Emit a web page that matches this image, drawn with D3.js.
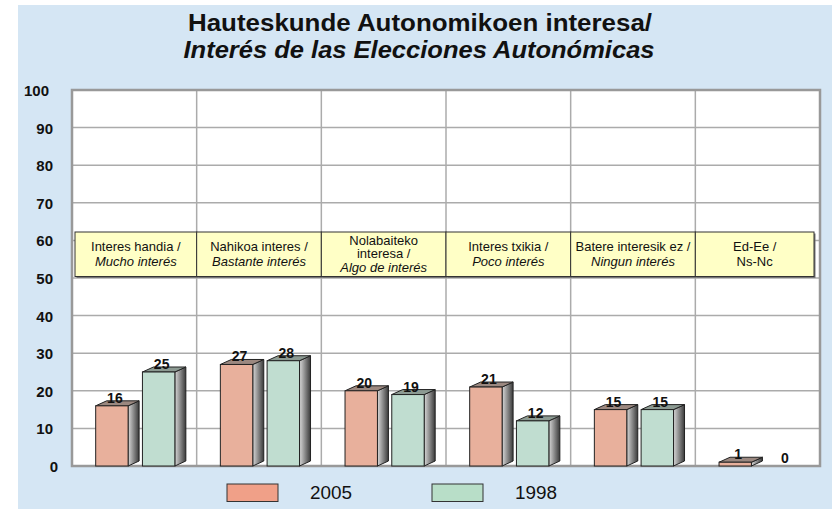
<!DOCTYPE html>
<html>
<head>
<meta charset="utf-8">
<script src="https://cdn.jsdelivr.net/npm/d3@7/dist/d3.min.js"></script>
<style>
  html, body { margin: 0; padding: 0; background: #fff; }
  svg { display: block; font-family: Arial, "Liberation Sans", sans-serif; }
</style>
</head>
<body>
<div id="chart"></div>
<script>
// ── Data ──────────────────────────────────────────────────────────────────
var titleEu = "Hauteskunde Autonomikoen interesa/";
var titleEs = "Interés de las Elecciones Autonómicas";
var categoriesEu = ["Interes handia /", "Nahikoa interes /", "Nolabaiteko\ninteresa /",
                    "Interes txikia /", "Batere interesik ez /", "Ed-Ee /"];
var categoriesEs = ["Mucho interés", "Bastante interés", "Algo de interés",
                    "Poco interés", "Ningun interés", "Ns-Nc"];
var seriesNames = ["2005", "1998"];
var values2005 = [16, 27, 20, 21, 15, 1];
var values1998 = [25, 28, 19, 12, 15, 0];
var yTicks = [0, 10, 20, 30, 40, 50, 60, 70, 80, 90, 100];

(function () {
  "use strict";

  var W = 832, H = 509;
  var plot = { left: 72, right: 820, top: 90, bottom: 466 };

  var svg = d3.select("#chart").append("svg").attr("width", W).attr("height", H);

  // gradient for the 3D side faces
  var defs = svg.append("defs");
  var gSide = defs.append("linearGradient").attr("id", "side").attr("x1", 0).attr("x2", 1).attr("y1", 0).attr("y2", 0);
  gSide.append("stop").attr("offset", "0%").attr("stop-color", "#d8d8d8");
  gSide.append("stop").attr("offset", "100%").attr("stop-color", "#3a3a3a");

  // background panel
  svg.append("rect").attr("x", 18).attr("y", 5).attr("width", W - 18).attr("height", H - 5)
    .attr("fill", "#d5e6f4");

  // title (the original is a bit wider than the installed Arial substitute)
  svg.append("text").attr("x", 420).attr("y", 31).attr("text-anchor", "middle")
    .attr("textLength", 464).attr("lengthAdjust", "spacingAndGlyphs")
    .style("font-size", "23px").style("font-weight", "bold").attr("fill", "#111").text(titleEu);
  svg.append("text").attr("x", 419).attr("y", 58).attr("text-anchor", "middle")
    .attr("textLength", 471).attr("lengthAdjust", "spacingAndGlyphs")
    .style("font-size", "23px").style("font-weight", "bold").style("font-style", "italic")
    .attr("fill", "#111").text(titleEs);

  var x = d3.scaleBand().domain(d3.range(categoriesEu.length)).range([plot.left, plot.right]);
  var y = d3.scaleLinear().domain([0, 100]).range([plot.bottom, plot.top]);

  // plot area
  svg.append("rect").attr("x", plot.left).attr("y", plot.top)
    .attr("width", plot.right - plot.left).attr("height", plot.bottom - plot.top).attr("fill", "#fff");

  var grid = svg.append("g");
  grid.selectAll(".hg").data(yTicks.slice(1, -1)).enter().append("line")
    .attr("x1", plot.left).attr("x2", plot.right)
    .attr("y1", function (d) { return y(d); }).attr("y2", function (d) { return y(d); })
    .attr("stroke", "#ababab").attr("stroke-width", 1.5);
  grid.selectAll(".vg").data(d3.range(1, categoriesEu.length)).enter().append("line")
    .attr("x1", function (i) { return x(i); }).attr("x2", function (i) { return x(i); })
    .attr("y1", plot.top).attr("y2", plot.bottom)
    .attr("stroke", "#ababab").attr("stroke-width", 1.5);

  svg.append("rect").attr("x", plot.left).attr("y", plot.top)
    .attr("width", plot.right - plot.left).attr("height", plot.bottom - plot.top)
    .attr("fill", "none").attr("stroke", "#999").attr("stroke-width", 2.5);

  // y tick labels
  svg.append("g").selectAll("text").data(yTicks).enter().append("text")
    .attr("x", function (d) { return 53 + (d === 0 ? 5 : d === 100 ? -4 : 0); })
    .attr("y", function (d) { return y(d) + 6; })
    .attr("text-anchor", "end").style("font-size", "15px").style("font-weight", "bold")
    .attr("fill", "#111").text(function (d) { return d; });

  // category label boxes
  var boxTop = 232, boxH = 44.5;
  var boxes = svg.append("g");
  categoriesEu.forEach(function (eu, i) {
    var x0 = Math.max(x(i), plot.left + 3);
    var x1 = Math.min(x(i) + x.bandwidth(), plot.right - 6);
    boxes.append("rect").attr("x", x0 + 1.5).attr("y", boxTop + 1.5)
      .attr("width", x1 - x0).attr("height", boxH).attr("fill", "#777");
    boxes.append("rect").attr("x", x0).attr("y", boxTop)
      .attr("width", x1 - x0).attr("height", boxH)
      .attr("fill", "#ffffc6").attr("stroke", "#333").attr("stroke-width", 1);
    var lines = eu.split("\n").map(function (t) { return { t: t, it: false }; });
    lines.push({ t: categoriesEs[i], it: i < categoriesEu.length - 1 });
    var lh = lines.length > 2 ? 13.5 : 15;
    var first = boxTop + boxH / 2 + 4 - (lines.length - 1) * lh / 2;
    var cx = (x0 + x1) / 2;
    lines.forEach(function (l, k) {
      boxes.append("text").attr("x", cx).attr("y", first + k * lh)
        .attr("text-anchor", "middle").style("font-size", "13px")
        .style("font-style", l.it ? "italic" : "normal").attr("fill", "#111").text(l.t);
    });
  });

  // 3D bars
  var series = [
    { name: seriesNames[0], values: values2005, front: "#e8b09c", top: "#9b8880", off: 0.19 },
    { name: seriesNames[1], values: values1998, front: "#c0ddd0", top: "#8c9a92", off: 0.565 }
  ];
  var bw = x.bandwidth() * 0.26, dx = 11, dy = 5;
  var bars = svg.append("g");
  series.forEach(function (s) {
    s.values.forEach(function (v, i) {
      var bx = x(i) + x.bandwidth() * s.off;
      var by = y(v), b0 = y(0);
      if (v > 0) {
        bars.append("polygon")
          .attr("points", [[bx + bw, by], [bx + bw + dx, by - dy], [bx + bw + dx, b0 - dy], [bx + bw, b0]].join(" "))
          .attr("fill", "url(#side)").attr("stroke", "#222").attr("stroke-width", 1);
        bars.append("polygon")
          .attr("points", [[bx, by], [bx + dx, by - dy], [bx + bw + dx, by - dy], [bx + bw, by]].join(" "))
          .attr("fill", s.top).attr("stroke", "#222").attr("stroke-width", 1);
        bars.append("rect").attr("x", bx).attr("y", by).attr("width", bw).attr("height", b0 - by)
          .attr("fill", s.front).attr("stroke", "#222").attr("stroke-width", 1);
      }
      bars.append("text").attr("x", bx + bw / 2 + 3).attr("y", by - 3)
        .attr("text-anchor", "middle").style("font-size", "14px").style("font-weight", "bold")
        .attr("fill", "#111").text(v);
    });
  });

  // legend
  var legend = svg.append("g");
  var legendX = [227, 432];
  var legendFill = ["#f0a088", "#b8dec8"];
  series.forEach(function (s, k) {
    legend.append("rect").attr("x", legendX[k]).attr("y", 484).attr("width", 51).attr("height", 17.5)
      .attr("fill", legendFill[k]).attr("stroke", "#333").attr("stroke-width", 1);
    legend.append("text").attr("x", legendX[k] + 83).attr("y", 499)
      .attr("textLength", 42).attr("lengthAdjust", "spacingAndGlyphs")
      .style("font-size", "18px").attr("fill", "#111").text(s.name);
  });
})();
</script>
</body>
</html>
